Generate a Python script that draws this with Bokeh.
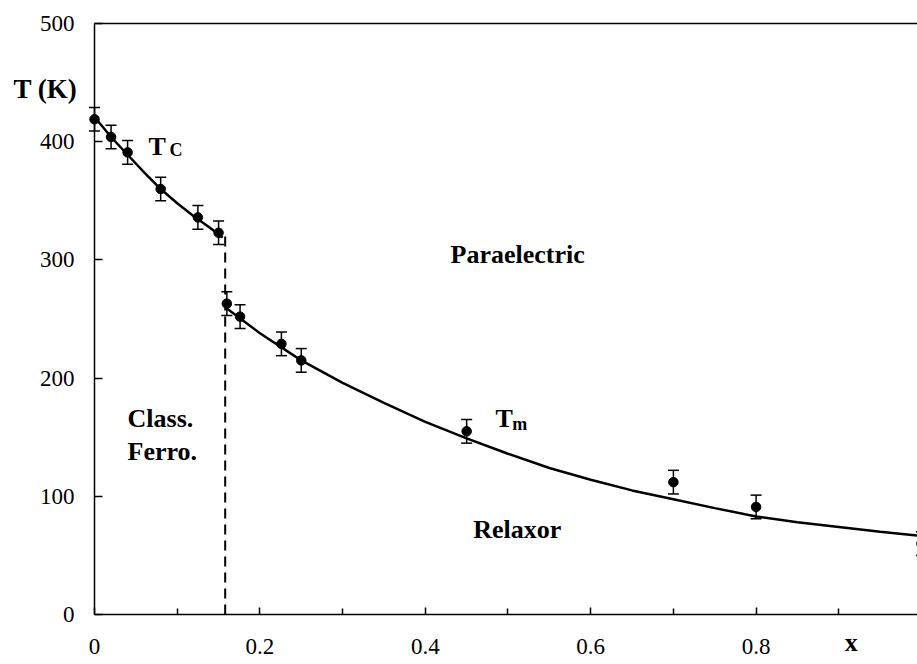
from bokeh.plotting import figure
from bokeh.models import (ColumnDataSource, Whisker, TeeHead, Label,
                          FixedTicker, CustomJSTickFormatter, Range1d)
from bokeh.embed import file_html
from bokeh.resources import INLINE

# measured points
x_pts = [0.0, 0.02, 0.04, 0.08, 0.125, 0.15, 0.16, 0.176, 0.226, 0.25, 0.45, 0.70, 0.80, 1.0]
T_pts = [419, 404, 391, 360, 336, 323, 263, 252, 229, 215, 155, 112, 91, 60]
T_err = [10, 10, 10, 10, 10, 10, 10, 10, 10, 10, 10, 10, 10, 10]

# Tc fitted curve
x_tc = [0.0, 0.02, 0.04, 0.06, 0.08, 0.10, 0.12, 0.14, 0.155]
T_tc = [421, 404, 389, 374, 360, 348, 337, 327, 319]

# Tm fitted curve
x_tm = [0.158, 0.2, 0.25, 0.3, 0.35, 0.4, 0.45, 0.5, 0.55, 0.6, 0.65, 0.7, 0.75, 0.8, 0.85, 0.9, 0.95, 1.0]
T_tm = [260, 238, 215, 196, 179, 163, 149, 136, 124, 114, 105, 97.5, 90, 83, 78, 74, 70, 66.5]

# phase boundary
x_boundary = [0.158, 0.158]
T_boundary = [0, 322]

x_ticks = [0, 0.2, 0.4, 0.6, 0.8]
x_minor = [0.1, 0.3, 0.5, 0.7, 0.9]
y_ticks = [0, 100, 200, 300, 400, 500]

X_MAX = 0.9952
T_MAX = 500

FONT = "Liberation Serif"

p = figure(width=917, height=662, output_backend="svg", toolbar_location=None,
           x_range=Range1d(-0.1137, X_MAX), y_range=Range1d(-40.6, 519.5),
           min_border=0)
p.grid.visible = False
p.outline_line_color = None
p.background_fill_color = "white"
p.border_fill_color = "white"

src = ColumnDataSource(dict(x=x_pts, T=T_pts,
                            lo=[t - e for t, e in zip(T_pts, T_err)],
                            hi=[t + e for t, e in zip(T_pts, T_err)]))

# top border of the plot box
p.line([0, X_MAX], [T_MAX, T_MAX], line_color="black", line_width=1.5)

p.line(x_tc, T_tc, line_color="black", line_width=2.5)
p.line(x_tm, T_tm, line_color="black", line_width=2.5)
p.line(x_boundary, T_boundary, line_color="black", line_width=2, line_dash="10 6")

w = Whisker(source=src, base="x", lower="lo", upper="hi", line_color="black", line_width=1.5,
            upper_head=TeeHead(size=11, line_color="black", line_width=1.5),
            lower_head=TeeHead(size=11, line_color="black", line_width=1.5))
p.add_layout(w)
p.scatter("x", "T", source=src, size=9.5, fill_color="black", line_color="black")

# axes
for ax in (p.xaxis[0], p.yaxis[0]):
    ax.fixed_location = 0
    ax.axis_line_color = "black"
    ax.axis_line_width = 1.5
    ax.major_tick_line_color = "black"
    ax.minor_tick_line_color = "black"
    ax.major_tick_line_width = 1.5
    ax.minor_tick_line_width = 1.5
    ax.major_tick_out = 0
    ax.minor_tick_out = 0
    ax.major_label_text_font = FONT
    ax.major_label_text_font_size = "23px"
    ax.major_label_text_color = "black"

p.xaxis.bounds = (0, X_MAX)
p.xaxis.ticker = FixedTicker(ticks=x_ticks, minor_ticks=x_minor)
p.xaxis.major_tick_in = 7
p.xaxis.minor_tick_in = 6
p.xaxis.major_label_standoff = 24
p.xaxis.formatter = CustomJSTickFormatter(code="return tick === 0 ? '0' : tick.toFixed(1);")

p.yaxis.bounds = (0, T_MAX)
p.yaxis.ticker = FixedTicker(ticks=y_ticks, minor_ticks=[])
p.yaxis.major_tick_in = 8
p.yaxis.major_label_standoff = 20

def lab(text, x, y, size, align="left"):
    p.add_layout(Label(x=x, y=y, text=text,
                       text_font=FONT, text_font_size=size,
                       text_font_style="bold",
                       text_color="black", text_align=align, text_baseline="alphabetic"))

lab("T (K)", -0.0980, 444.6, "27px")
lab("T", 0.0653, 396.1, "26px")
lab("C", 0.0907, 393.1, "18px")
lab("Paraelectric", 0.4305, 304.6, "26px")
lab("T", 0.485, 165.6, "26px")
lab("m", 0.505, 161.6, "18px")
lab("Class.", 0.0399, 165.6, "26px")
lab("Ferro.", 0.0399, 137.9, "26px")
lab("Relaxor", 0.458, 71.9, "26px")
lab("x", 0.915, -24.1, "26px", align="center")

open("out.html", "w").write(file_html(p, INLINE))
